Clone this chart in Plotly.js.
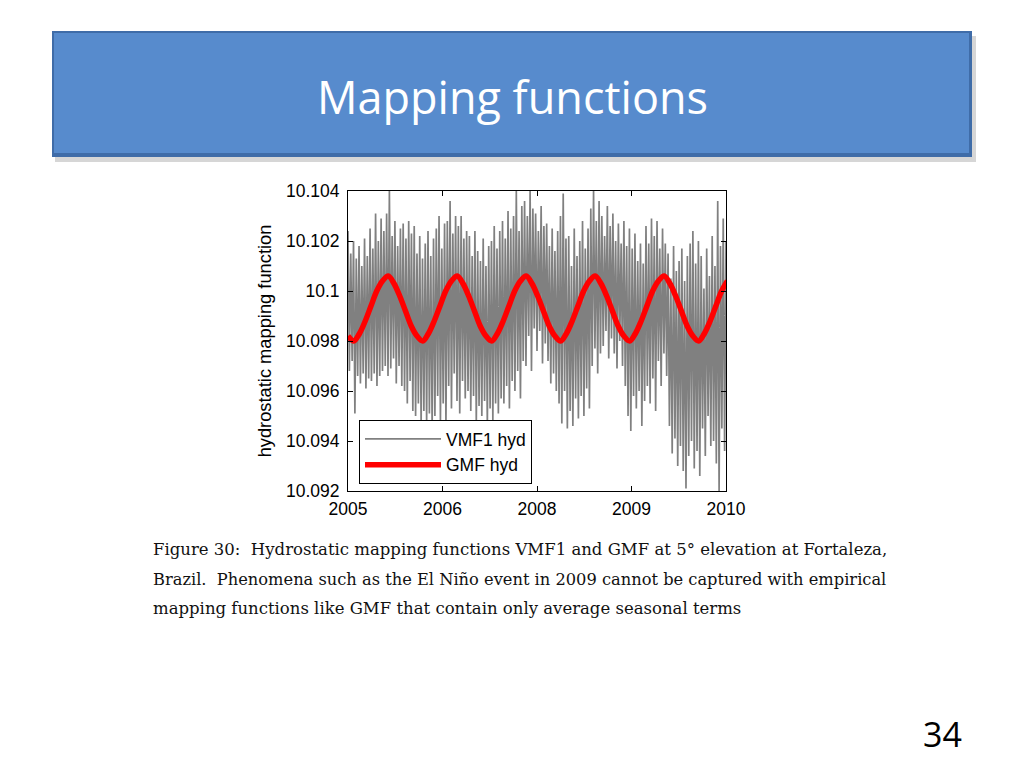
<!DOCTYPE html>
<html>
<head>
<meta charset="utf-8">
<script src="https://cdn.plot.ly/plotly-3.0.1.min.js"></script>
<style>
  html, body { margin: 0; padding: 0; background: #ffffff; }
  #chart { width: 1024px; height: 768px; }
</style>
</head>
<body>
<div id="chart"></div>
<script>
// ---------- data ----------
// VMF1 hydrostatic mapping function (5 deg elevation, Fortaleza), sampled every 0.02 yr from 2005.0
const vmfStartYear = 2005.0;
const vmfStep = 0.02;
const vmfValues = [
  10.1024,10.0968,10.1015,10.0972,10.1020,10.0951,10.1013,10.0966,
  10.1018,10.0963,10.1010,10.0967,10.1021,10.0961,10.1014,10.0965,
  10.1025,10.0964,10.1017,10.0967,10.1031,10.0962,10.1020,10.0966,
  10.1029,10.0968,10.1024,10.0970,10.1031,10.0966,10.1040,10.0969,
  10.1022,10.0973,10.1028,10.0963,10.1018,10.0970,10.1025,10.0962,
  10.1027,10.0960,10.1021,10.0955,10.1028,10.0964,10.1023,10.0952,
  10.1026,10.0950,10.1015,10.0955,10.1022,10.0946,10.1013,10.0952,
  10.1019,10.0947,10.1024,10.0951,10.1014,10.0945,10.1021,10.0950,
  10.1025,10.0958,10.1030,10.0948,10.1017,10.0955,10.1027,10.0946,
  10.1028,10.0962,10.1036,10.0953,10.1023,10.0967,10.1030,10.0956,
  10.1026,10.0951,10.1030,10.0964,10.1021,10.0957,10.1024,10.0960,
  10.1022,10.0952,10.1014,10.0958,10.1024,10.0947,10.1016,10.0954,
  10.1012,10.0950,10.1021,10.0956,10.1010,10.0946,10.1018,10.0953,
  10.1020,10.0948,10.1026,10.0955,10.1017,10.0951,10.1024,10.0957,
  10.1028,10.0955,10.1021,10.0962,10.1032,10.0953,10.1025,10.0964,
  10.1030,10.0960,10.1040,10.0968,10.1024,10.0957,10.1034,10.0972,
  10.1036,10.0970,10.1030,10.0982,10.1040,10.0968,10.1033,10.0985,
  10.1031,10.0976,10.1024,10.0984,10.1034,10.0971,10.1026,10.0979,
  10.1027,10.0972,10.1018,10.0963,10.1025,10.0967,10.1016,10.0960,
  10.1024,10.0955,10.1030,10.0947,10.1039,10.0960,10.1021,10.0945,
  10.1022,10.0952,10.1010,10.0946,10.1025,10.0957,10.1014,10.0949,
  10.1020,10.0958,10.1028,10.0950,10.1017,10.0961,10.1025,10.0953,
  10.1033,10.0970,10.1040,10.0977,10.1028,10.0967,10.1036,10.0975,
  10.1030,10.0978,10.1022,10.0984,10.1034,10.0973,10.1026,10.0981,
  10.1031,10.0975,10.1020,10.0969,10.1027,10.0980,10.1019,10.0970,
  10.1028,10.0962,10.1018,10.0950,10.1025,10.0944,10.1017,10.0958,
  10.1023,10.0953,10.1012,10.0960,10.1019,10.0946,10.1011,10.0956,
  10.1026,10.0962,10.1019,10.0955,10.1029,10.0965,10.1022,10.0952,
  10.1028,10.0972,10.1017,10.0962,10.1025,10.0975,10.1019,10.0966,
  10.1015,10.0946,10.1005,10.0935,10.1018,10.0941,10.1008,10.0930,
  10.1012,10.0938,10.1017,10.0928,10.1004,10.0921,10.1014,10.0934,
  10.1019,10.0940,10.1024,10.0929,10.1011,10.0936,10.1020,10.0926,
  10.1014,10.0945,10.1001,10.0934,10.1017,10.0950,10.1006,10.0938,
  10.1022,10.0940,10.1010,10.0931,10.1036,10.0920,10.1018,10.0945,
  10.1029,10.0936,10.1020,10.0948
];

// GMF hydrostatic mapping function, monthly from 2005.0
const gmfStartYear = 2005.0;
const gmfStepMonths = 1;
const gmfValues = [
  10.0982,10.0980,10.0983,10.0988,10.0994,10.1000,10.1004,10.1006,10.1003,10.0998,10.0992,10.0986,
  10.0982,10.0980,10.0983,10.0988,10.0994,10.1000,10.1004,10.1006,10.1003,10.0998,10.0992,10.0986,
  10.0982,10.0980,10.0983,10.0988,10.0994,10.1000,10.1004,10.1006,10.1003,10.0998,10.0992,10.0986,
  10.0982,10.0980,10.0983,10.0988,10.0994,10.1000,10.1004,10.1006,10.1003,10.0998,10.0992,10.0986,
  10.0982,10.0980,10.0983,10.0988,10.0994,10.1000,10.1004,10.1006,10.1003,10.0998,10.0992,10.0986,
  10.0982,10.0980,10.0983,10.0988,10.0994,10.1000,10.1004
];

const seriesNames = ['VMF1 hyd', 'GMF hyd'];

// axis ticks as printed on the figure
const xTickVals = [2005.0, 2006.37, 2007.74, 2009.11, 2010.48];
const xTickText = ['2005', '2006', '2008', '2009', '2010'];
const yTickVals = [10.092, 10.094, 10.096, 10.098, 10.100, 10.102, 10.104];
const yTickText = ['10.092', '10.094', '10.096', '10.098', '10.1', '10.102', '10.104'];

const slideTitle = 'Mapping functions';
const yAxisTitle = 'hydrostatic mapping function';
const captionLines = [
  'Figure 30:  Hydrostatic mapping functions VMF1 and GMF at 5° elevation at Fortaleza,',
  'Brazil.  Phenomena such as the El Niño event in 2009 cannot be captured with empirical',
  'mapping functions like GMF that contain only average seasonal terms'
];
const pageNumber = '34';

// ---------- build traces ----------
const vmfTime = vmfValues.map((_, i) => vmfStartYear + i * vmfStep);
const gmfTime = gmfValues.map((_, i) => gmfStartYear + i * gmfStepMonths / 12);

const traces = [
  {
    x: vmfTime, y: vmfValues, type: 'scatter', mode: 'lines',
    name: seriesNames[0],
    line: { color: '#808080', width: 1.7 },
    hoverinfo: 'skip'
  },
  {
    x: gmfTime, y: gmfValues, type: 'scatter', mode: 'lines',
    name: seriesNames[1],
    line: { color: '#ff0000', width: 5.5, shape: 'spline' },
    hoverinfo: 'skip'
  }
];

// ---------- layout (plot area: x 348..726, y 191..491 px) ----------
const L = 348, R = 726, T = 191, B = 491;
const px = v => (v - L) / (R - L);
const py = v => (B - v) / (B - T);

const axisFont = { family: 'Liberation Sans, Arial, sans-serif', size: 17.5, color: '#000000' };
const titleFont = { family: 'Liberation Sans, Arial, sans-serif', size: 18.3, color: '#000000' };
const legendFont = { family: 'Liberation Sans, Arial, sans-serif', size: 17.5, color: '#000000' };

const layout = {
  width: 1024, height: 768,
  margin: { l: L, r: 1024 - R, t: T, b: 768 - B, pad: 0 },
  paper_bgcolor: '#ffffff',
  plot_bgcolor: '#ffffff',
  showlegend: true,
  font: axisFont,
  xaxis: {
    range: [2005.0, 2010.48],
    tickmode: 'array', tickvals: xTickVals, ticktext: xTickText,
    ticks: 'inside', ticklen: 5, tickcolor: '#000', tickwidth: 1,
    ticklabelstandoff: 2,
    showline: true, linecolor: '#000', linewidth: 1, mirror: 'ticks',
    showgrid: false, zeroline: false,
    tickfont: axisFont, fixedrange: true
  },
  yaxis: {
    range: [10.092, 10.104],
    tickmode: 'array', tickvals: yTickVals, ticktext: yTickText,
    ticks: 'inside', ticklen: 5, tickcolor: '#000', tickwidth: 1,
    ticklabelstandoff: 4,
    showline: true, linecolor: '#000', linewidth: 1, mirror: 'ticks',
    showgrid: false, zeroline: false,
    tickfont: axisFont, fixedrange: true,
    title: { text: yAxisTitle, font: titleFont, standoff: 9 }
  },
  legend: {
    x: px(359), y: py(484), xanchor: 'left', yanchor: 'bottom',
    bgcolor: '#ffffff', bordercolor: '#000000', borderwidth: 1,
    font: legendFont, itemwidth: 76, traceorder: 'normal',
    tracegroupgap: 0, indentation: 0,
    itemclick: false, itemdoubleclick: false
  },
  shapes: [
    // banner shadow
    { type: 'rect', xref: 'paper', yref: 'paper', layer: 'below',
      x0: px(55), x1: px(976), y0: py(162), y1: py(36),
      fillcolor: 'rgba(0,0,0,0.16)', line: { width: 0 } },
    // banner dark bevel
    { type: 'rect', xref: 'paper', yref: 'paper', layer: 'below',
      x0: px(52), x1: px(972), y0: py(157), y1: py(31),
      fillcolor: '#3f6ca8', line: { width: 0 } },
    // banner face
    { type: 'rect', xref: 'paper', yref: 'paper', layer: 'below',
      x0: px(54), x1: px(969), y0: py(153), y1: py(33),
      fillcolor: '#578bcd', line: { width: 0 } }
  ],
  annotations: [
    { text: slideTitle, xref: 'paper', yref: 'paper', x: px(512), y: py(96),
      xanchor: 'center', yanchor: 'middle', showarrow: false,
      font: { family: 'Open Sans, sans-serif', size: 45, color: '#ffffff' } },
    { text: captionLines[0], xref: 'paper', yref: 'paper', x: px(151), y: py(549),
      xanchor: 'left', yanchor: 'middle', showarrow: false,
      font: { family: 'DejaVu Serif, serif', size: 16.5, color: '#111111' } },
    { text: captionLines[1], xref: 'paper', yref: 'paper', x: px(151), y: py(579),
      xanchor: 'left', yanchor: 'middle', showarrow: false,
      font: { family: 'DejaVu Serif, serif', size: 16.25, color: '#111111' } },
    { text: captionLines[2], xref: 'paper', yref: 'paper', x: px(151), y: py(608),
      xanchor: 'left', yanchor: 'middle', showarrow: false,
      font: { family: 'DejaVu Serif, serif', size: 16.5, color: '#111111' } },
    { text: pageNumber, xref: 'paper', yref: 'paper', x: px(942), y: py(734),
      xanchor: 'center', yanchor: 'middle', showarrow: false,
      font: { family: 'Open Sans, sans-serif', size: 34, color: '#000000' } }
  ]
};

Plotly.newPlot('chart', traces, layout, { staticPlot: true, displayModeBar: false });
</script>
</body>
</html>
